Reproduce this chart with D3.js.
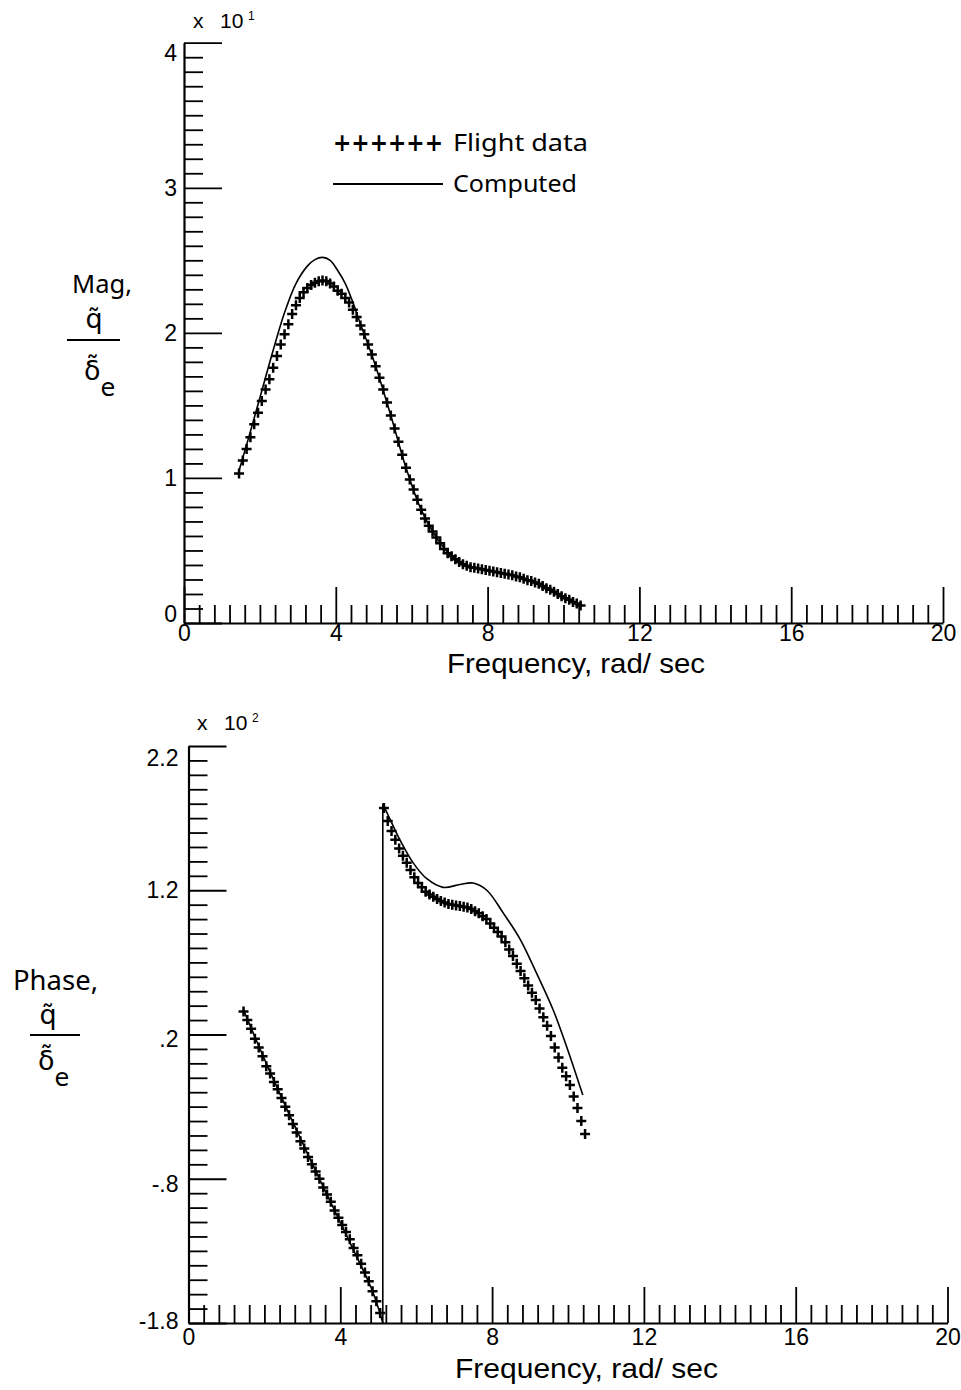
<!DOCTYPE html>
<html lang="en">
<head>
    <meta charset="utf-8">
    <title>pitch_rate_frequency_response</title>
    <script type="text/javascript" src="https://d3js.org/d3.v7.min.js"></script>
    <style type="text/css">
        body { margin: 0; background: #fff; }
    </style>
</head>
<body>

<script type="text/javascript">

    // Frequency, rad/sec, of the flight data points (both panels).
    var freq = [
        1.45, 1.55, 1.65, 1.75, 1.85, 1.95, 2.05, 2.15, 2.25, 2.35,
        2.45, 2.55, 2.65, 2.75, 2.85, 2.95, 3.05, 3.15, 3.25, 3.35,
        3.45, 3.55, 3.65, 3.75, 3.85, 3.95, 4.05, 4.15, 4.25, 4.35,
        4.45, 4.55, 4.65, 4.75, 4.85, 4.95, 5.05, 5.15, 5.25, 5.35,
        5.45, 5.55, 5.65, 5.75, 5.85, 5.95, 6.05, 6.15, 6.25, 6.35,
        6.45, 6.55, 6.65, 6.75, 6.85, 6.95, 7.05, 7.15, 7.25, 7.35,
        7.45, 7.55, 7.65, 7.75, 7.85, 7.95, 8.05, 8.15, 8.25, 8.35,
        8.45, 8.55, 8.65, 8.75, 8.85, 8.95, 9.05, 9.15, 9.25, 9.35,
        9.45, 9.55, 9.65, 9.75, 9.85, 9.95, 10.05, 10.15, 10.25, 10.35,
        10.45
    ];

    // Magnitude, plotted in units of x 10^1
    var mag_flight = [
        1.03, 1.12, 1.20, 1.28, 1.37, 1.45, 1.53, 1.61, 1.68, 1.76,
        1.84, 1.92, 1.99, 2.06, 2.13, 2.19, 2.24, 2.28, 2.31, 2.33,
        2.345, 2.355, 2.36, 2.355, 2.34, 2.32, 2.29, 2.27, 2.24, 2.21,
        2.16, 2.11, 2.05, 1.99, 1.92, 1.85, 1.77, 1.69, 1.61, 1.52,
        1.43, 1.34, 1.25, 1.16, 1.07, 0.99, 0.92, 0.85, 0.78, 0.72,
        0.67, 0.63, 0.59, 0.55, 0.51, 0.48, 0.46, 0.44, 0.42, 0.405,
        0.395, 0.385, 0.38, 0.375, 0.37, 0.365, 0.36, 0.355, 0.35, 0.345,
        0.34, 0.335, 0.33, 0.32, 0.315, 0.305, 0.295, 0.29, 0.28, 0.27,
        0.255, 0.24, 0.23, 0.215, 0.20, 0.185, 0.17, 0.16, 0.145, 0.135,
        0.12
    ];

    var mag_comp_freq = [1.45, 1.75, 2.05, 2.35, 2.65, 2.95, 3.25, 3.45, 3.65, 3.85,
        4.05, 4.25, 4.45, 4.65, 4.85, 5.05, 5.45, 5.85, 6.25, 6.65,
        7.05, 7.45, 7.85, 8.25, 8.65, 9.05, 9.45, 9.85, 10.25, 10.45];
    var mag_comp = [1.05, 1.32, 1.60, 1.88, 2.14, 2.34, 2.46, 2.505, 2.52, 2.50,
        2.43, 2.34, 2.21, 2.06, 1.92, 1.77, 1.43, 1.07, 0.78, 0.59,
        0.46, 0.395, 0.37, 0.35, 0.33, 0.295, 0.255, 0.20, 0.145, 0.12];

    // Phase, plotted in units of x 10^2 deg (wraps from -180 to +180)
    var phase_flight = [
        0.36, 0.30, 0.24, 0.17, 0.11, 0.05, -0.02, -0.07, -0.13, -0.18,
        -0.24, -0.30, -0.36, -0.42, -0.48, -0.54, -0.59, -0.65, -0.70, -0.75,
        -0.80, -0.86, -0.91, -0.96, -1.02, -1.07, -1.12, -1.17, -1.22, -1.28,
        -1.33, -1.39, -1.45, -1.51, -1.58, -1.65, -1.73, 1.77, 1.68, 1.61,
        1.55, 1.49, 1.44, 1.39, 1.34, 1.29, 1.25, 1.22, 1.19, 1.17,
        1.155, 1.14, 1.125, 1.115, 1.105, 1.10, 1.095, 1.09, 1.085, 1.08,
        1.07, 1.055, 1.04, 1.02, 1.00, 0.97, 0.94, 0.91, 0.88, 0.84,
        0.79, 0.745, 0.69, 0.64, 0.59, 0.54, 0.49, 0.44, 0.38, 0.32,
        0.26, 0.19, 0.11, 0.04, -0.03, -0.09, -0.15, -0.23, -0.31, -0.40,
        -0.49
    ];

    var phase_comp_freq = [1.45, 2.05, 2.65, 3.25, 3.85, 4.45, 4.85, 5.12,
        5.12, 5.35, 5.57, 5.92, 6.28, 6.71, 7.15, 7.50, 7.86, 8.30, 8.74, 9.18, 9.61, 10.05, 10.39];
    var phase_comp = [0.37, 0.00, -0.35, -0.69, -1.02, -1.35, -1.58, -1.80,
        1.80, 1.67, 1.55, 1.39, 1.28, 1.22, 1.24, 1.25, 1.20, 1.04, 0.86, 0.62, 0.37, 0.05, -0.22];

    var x_major = [0, 4, 8, 12, 16, 20];
    var mag_major = [0, 1, 2, 3, 4];
    var phase_major = [-1.8, -0.8, 0.2, 1.2, 2.2];
    var phase_labels = ["-1.8", "-.8", ".2", "1.2", "2.2"];

    var x_minor = d3.range(0, 20.01, 0.4).map(v => +v.toFixed(1)).filter(v => v % 4 !== 0);
    var mag_minor = d3.range(0, 4.01, 0.1).map(v => +v.toFixed(1)).filter(v => v % 1 !== 0);
    var phase_minor = d3.range(-1.8, 2.21, 0.1).map(v => +v.toFixed(1))
        .filter(v => phase_major.indexOf(v) < 0);

    var tick_font = "Liberation Sans";
    var text_font = "Noto Sans";

    var svg = d3.select("body")
        .append("svg")
        .attr("width", 961)
        .attr("height", 1390)
        .style("background", "#fff");

    var x_mag = d3.scaleLinear().domain([0, 20]).range([184, 943]);
    var y_mag = d3.scaleLinear().domain([0, 4]).range([623, 42.7]);
    var x_ph = d3.scaleLinear().domain([0, 20]).range([188.5, 947.5]);
    var y_ph = d3.scaleLinear().domain([-1.8, 2.2]).range([1323, 746]);

    function draw_axes(x, y, y_major, y_minor, y_format, y_pad, x_pad) {
        var x0 = x.range()[0];
        var y0 = y.range()[0];

        // ticks all point into the plot
        svg.append("g")
            .attr("transform", "translate(0," + y0 + ")")
            .call(d3.axisBottom(x).tickValues(x_minor).tickSize(-18).tickSizeOuter(0).tickFormat(""))
            .call(g => g.select(".domain").remove());
        svg.append("g")
            .attr("transform", "translate(0," + y0 + ")")
            .call(d3.axisBottom(x).tickValues(x_major).tickSize(-36).tickSizeOuter(0).tickPadding(x_pad))
            .attr("font-family", tick_font)
            .attr("font-size", 23);
        svg.append("g")
            .attr("transform", "translate(" + x0 + ",0)")
            .call(d3.axisLeft(y).tickValues(y_minor).tickSize(-19).tickSizeOuter(0).tickFormat(""))
            .call(g => g.select(".domain").remove());
        var ya = svg.append("g")
            .attr("transform", "translate(" + x0 + ",0)")
            .call(d3.axisLeft(y).tickValues(y_major).tickSize(-38).tickSizeOuter(0)
                .tickPadding(y_pad).tickFormat(y_format))
            .attr("font-family", tick_font)
            .attr("font-size", 23);
        return ya;
    }

    var ya_mag = draw_axes(x_mag, y_mag, mag_major, mag_minor, d3.format("d"), 7, 2);
    ya_mag.selectAll(".tick text")
        .attr("y", d => d === 4 ? 10 : (d === 0 ? -9 : 0));

    var ya_ph = draw_axes(x_ph, y_ph, phase_major, phase_minor,
        (d, i) => phase_labels[i], 10, 6);
    ya_ph.selectAll(".tick text")
        .attr("y", d => d === 2.2 ? 12 : (d === -1.8 ? -2 : (d === 1.2 ? 0 : 5)));

    svg.selectAll(".tick line").attr("stroke-width", 1.8);
    svg.selectAll(".domain").attr("stroke-width", 2.2);

    // Flight data, crosses
    function draw_crosses(x, y, vals) {
        svg.append("g")
            .selectAll("path")
            .data(freq.map((f, i) => [f, vals[i]]))
            .enter()
            .append("path")
            .attr("transform", d => "translate(" + x(d[0]) + "," + y(d[1]) + ")")
            .attr("d", "M-5,0H5M0,-5V5")
            .attr("stroke", "#000")
            .attr("stroke-width", 2.5)
            .attr("fill", "none");
    }
    draw_crosses(x_mag, y_mag, mag_flight);
    draw_crosses(x_ph, y_ph, phase_flight);

    // Computed, solid line
    function draw_line(x, y, fs, vs) {
        var pts = fs.map((f, i) => [f, vs[i]]);
        var segs = [[pts[0]]];
        for (var i = 1; i < pts.length; i++) {
            if (Math.abs(pts[i][1] - pts[i - 1][1]) > 2) {
                // phase wrap, joined by a straight stroke
                svg.append("path")
                    .attr("d", d3.line().x(d => x(d[0])).y(d => y(d[1]))([pts[i - 1], pts[i]]))
                    .attr("stroke", "#000").attr("stroke-width", 1.6).attr("fill", "none");
                segs.push([]);
            }
            segs[segs.length - 1].push(pts[i]);
        }
        var line = d3.line()
            .x(d => x(d[0]))
            .y(d => y(d[1]))
            .curve(d3.curveCatmullRom.alpha(0.5));
        segs.forEach(s => {
            svg.append("path")
                .attr("d", line(s))
                .attr("stroke", "#000")
                .attr("stroke-width", 1.6)
                .attr("fill", "none");
        });
    }
    draw_line(x_mag, y_mag, mag_comp_freq, mag_comp);
    draw_line(x_ph, y_ph, phase_comp_freq, phase_comp);

    // Legend
    svg.append("text")
        .attr("x", 333).attr("y", 151)
        .attr("font-family", "DejaVu Sans").attr("font-weight", "bold").attr("font-size", 25)
        .attr("textLength", 110).attr("lengthAdjust", "spacingAndGlyphs")
        .text("++++++");
    svg.append("text")
        .attr("x", 453).attr("y", 151)
        .attr("font-family", text_font).attr("font-size", 23)
        .attr("textLength", 135).attr("lengthAdjust", "spacingAndGlyphs")
        .text("Flight data");
    svg.append("line")
        .attr("x1", 333).attr("x2", 443).attr("y1", 184).attr("y2", 184)
        .attr("stroke", "#000").attr("stroke-width", 2);
    svg.append("text")
        .attr("x", 453).attr("y", 192)
        .attr("font-family", text_font).attr("font-size", 23)
        .attr("textLength", 124).attr("lengthAdjust", "spacingAndGlyphs")
        .text("Computed");

    // Axis titles
    function x_title(x0, y0, w) {
        svg.append("text")
            .attr("x", x0).attr("y", y0)
            .attr("font-family", tick_font).attr("font-size", 28)
            .attr("textLength", w).attr("lengthAdjust", "spacingAndGlyphs")
            .text("Frequency, rad/ sec");
    }
    x_title(447, 673, 258);
    x_title(455, 1378, 263);

    function exponent(x0, y0, p) {
        var t = svg.append("text")
            .attr("y", y0)
            .attr("font-family", tick_font).attr("font-size", 21);
        t.append("tspan").attr("x", x0).text("x");
        t.append("tspan").attr("x", x0 + 27).text("10");
        t.append("tspan").attr("x", x0 + 55).attr("dy", -8).attr("font-size", 12).text(p);
    }
    exponent(193, 28, "1");
    exponent(197, 730, "2");

    function y_title(word, wx, wy, ww, fs, cx, qy, ly, lx1, lx2, dy) {
        svg.append("text")
            .attr("x", wx).attr("y", wy)
            .attr("font-family", text_font).attr("font-size", fs)
            .attr("textLength", ww).attr("lengthAdjust", "spacingAndGlyphs")
            .text(word);
        svg.append("text")
            .attr("x", cx).attr("y", qy)
            .attr("text-anchor", "middle")
            .attr("font-family", "DejaVu Sans").attr("font-size", 27)
            .text("q\u0303");
        svg.append("line")
            .attr("x1", lx1).attr("x2", lx2).attr("y1", ly).attr("y2", ly)
            .attr("stroke", "#000").attr("stroke-width", 1.8);
        var den = svg.append("text")
            .attr("x", cx - 10).attr("y", dy)
            .attr("font-family", "DejaVu Sans").attr("font-size", 27);
        den.append("tspan").text("\u03b4\u0303");
        den.append("tspan").attr("dy", 16).attr("font-size", 24).text("e");
    }
    y_title("Mag,", 72, 293, 60, 26, 94, 328, 340, 67, 120, 380);
    y_title("Phase,", 13, 990, 85, 28, 48, 1024, 1035, 30, 80, 1070);

</script>
</body>
</html>
